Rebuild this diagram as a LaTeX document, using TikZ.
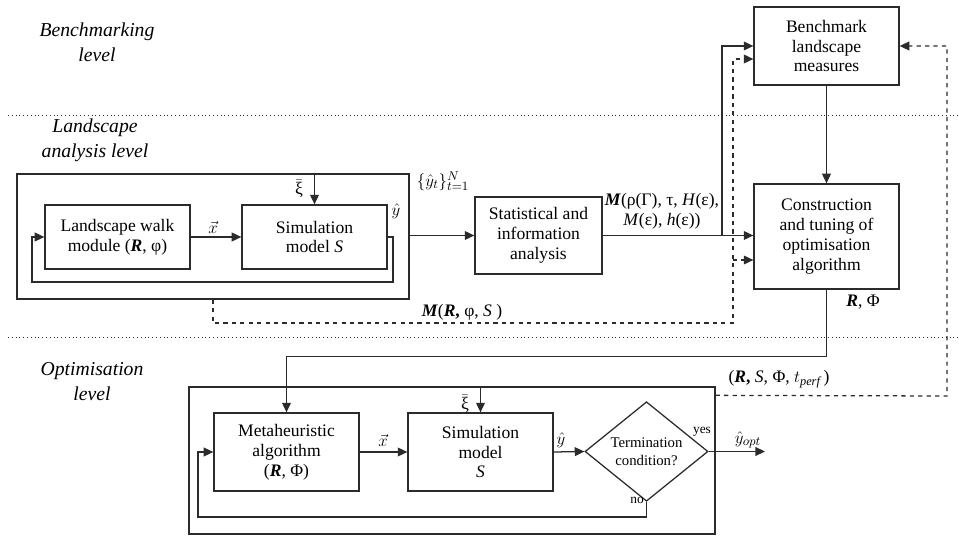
\documentclass[tikz,border=0pt]{standalone}
\usepackage{fontspec}
\setmainfont{Liberation Serif}
\usetikzlibrary{arrows.meta, positioning, shapes.geometric, calc}
\definecolor{cline}{HTML}{2B2B2B}
\tikzset{
  every picture/.style={line width=0.9pt},
  block/.style={draw=cline, align=center, inner sep=2pt, font=\fontsize{12.5}{14.2}\selectfont},
  frame/.style={draw=cline, inner sep=0pt},
  arrow/.style={-{Triangle[length=2.4mm, width=2.2mm]}, draw=cline},
  dasharrow/.style={arrow, dashed},
  levelname/.style={font=\fontsize{14}{17.7}\selectfont\itshape, align=center},
  sep/.style={draw=cline, dotted, line width=0.7pt},
  lbl/.style={font=\fontsize{12.5}{14.2}\selectfont, align=center, inner sep=0pt},
  tiny/.style={font=\fontsize{9.5}{11}\selectfont, inner sep=1pt},
}
\newcommand{\bR}{\textbf{\textit{R}}}
\newcommand{\bM}{\textbf{\textit{M}}}
\newcommand{\xibar}{\ensuremath{\bar{\mbox{ξ}}}}

\begin{document}
\begin{tikzpicture}[x=0.025cm, y=-0.025cm]
  \useasboundingbox (0,0) rectangle (959,537);
  % level separators
  \draw[sep] (8,115) -- (959,115);
  \draw[sep] (8,337) -- (959,337);
  \node[levelname] (lvbench) at (97,42) {Benchmarking\\level};
  \node[levelname] (lvland) at (95,140) {Landscape\\analysis level};
  \node[levelname] (lvopt) at (92,382) {Optimisation\\level};

  % benchmarking and tuning
  \node[block, minimum width=3.625cm, minimum height=1.95cm] (bench) at (826.5,46) {Benchmark\\landscape\\measures};
  \node[block, minimum width=3.625cm, minimum height=2.625cm] (constr) at (826.5,236.5) {Construction\\and tuning of\\optimisation\\algorithm};
  \draw[arrow] (bench.south) -- (constr.north);

  % landscape analysis
  \node[frame, minimum width=9.8cm, minimum height=3.125cm] (lsframe) at (213,236.5) {};
  \node[block, minimum width=3.625cm, minimum height=1.6cm] (walk) at (117.5,237) {Landscape walk\\module (\bR, φ)};
  \node[block, minimum width=3.625cm, minimum height=1.6cm] (simA) at (314.5,237) {Simulation\\model \textit{S}};
  \node[block, minimum width=3.175cm, minimum height=1.925cm] (stat) at (538.5,235.5) {Statistical and\\information\\analysis};
  \draw[arrow] (simA.north |- lsframe.north) -- (simA.north);
  \node[lbl] (xiA) at (299,189) {\xibar};
  \draw[arrow] (walk.east) -- (simA.west);
  \node[lbl] (xA) at (213,227) {$\vec{x}$};
  \node[lbl] (yA) at (396,211) {$\hat{y}$};
  \coordinate (wloopA) at (393,282);
  \coordinate (wloopB) at (32,282);
  \draw[arrow] (simA.east) -| (wloopA) -- (wloopB) |- (walk.west);
  \draw[arrow] (lsframe.east |- stat.west) -- (stat.west);
  \node[lbl] (yset) at (443,181) {$\{\hat{y}_t\}_{t=1}^{N}$};
  \draw[arrow] (stat.east) -- (stat.east -| constr.west);
  \coordinate (split) at (722,235.5);
  \draw[arrow] (split) |- (bench.west);
  \node[lbl] (mstat) at (662,211) {\bM(ρ(Γ), τ, \textit{H}(ε),\\\textit{M}(ε), \textit{h}(ε))};
  \coordinate (dturn) at (733,323);
  \draw[dasharrow] (lsframe.south) |- (dturn) |- ($(bench.west)+(0,13)$);
  \coordinate (dbranch) at (733,260);
  \draw[dasharrow] (dbranch) -- (dbranch -| constr.west);
  \node[lbl] (mwalk) at (462,312) {\bM(\textbf{\textit{R},} φ, \textit{S}~)};

  % optimisation
  \node[frame, minimum width=13.15cm, minimum height=3.675cm] (optframe) at (452,460.5) {};
  \node[block, minimum width=3.625cm, minimum height=1.95cm] (meta) at (286.5,452) {Metaheuristic\\algorithm\\(\bR, Φ)};
  \node[block, minimum width=3.625cm, minimum height=1.95cm] (simB) at (480.5,452) {Simulation\\model\\\textit{S}};
  \node[draw=cline, diamond, inner sep=0pt, minimum width=3.075cm, minimum height=1.925cm, align=center, font=\fontsize{10.5}{12.5}\selectfont] (term) at (646.5,451.5) {Termination\\condition?};
  \draw[arrow] (constr.south) |- ($(meta.north)+(0,-56)$) -- (meta.north);
  \node[lbl] (rphi) at (863,302) {\bR, Φ};
  \draw[arrow] (simB.north |- optframe.north) -- (simB.north);
  \node[lbl] (xiB) at (465,404) {\xibar};
  \draw[arrow] (meta.east) -- (simB.west);
  \node[lbl] (xB) at (383,440) {$\vec{x}$};
  \draw[arrow] (simB.east) -- (term.west);
  \node[lbl] (yB) at (561,440) {$\hat{y}$};
  \coordinate (yend) at (765,451.5);
  \draw[arrow] (term.east) -- (yend);
  \node[lbl] (yopt) at (748,440) {$\hat{y}_{opt}$};
  \node[tiny] (yes) at (702,432) {yes};
  \node[tiny] (no) at (637,500) {no};
  \coordinate (nloop) at (198,517);
  \draw[arrow] (term.south) |- (nloop) |- (meta.west);
  \coordinate (pstart) at ($(optframe.north east)+(0,9)$);
  \coordinate (pturn) at (947,396);
  \draw[dasharrow] (pstart) -- (pturn) |- (bench.east);
  \node[lbl] (rperf) at (779,379) {(\textbf{\textit{R},} \textit{S}, Φ, $t_{\mathit{perf}}$\,)};
\end{tikzpicture}
\end{document}
